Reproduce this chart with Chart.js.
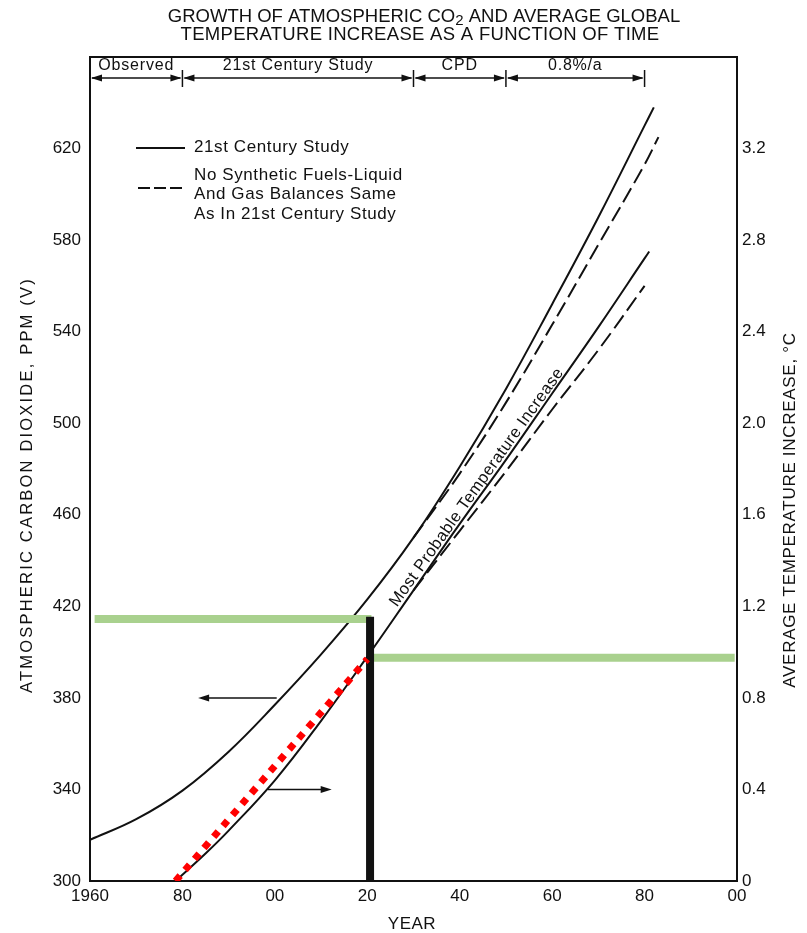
<!DOCTYPE html>
<html>
<head>
<meta charset="utf-8">
<script src="https://cdn.jsdelivr.net/npm/chart.js@4.4.1/dist/chart.umd.min.js"></script>
<style>
  body { margin: 0; background: #fff; }
  #wrap { width: 807px; height: 933px; }
</style>
</head>
<body>
<div id="wrap"><canvas id="myChart" width="807" height="933"></canvas></div>
<script>
// data
const co2Years = [1960, 1970, 1980, 1990, 2000, 2010, 2020, 2030, 2040, 2050, 2060, 2070, 2080, 2082];
const co2Ppm = [318, 327, 339.5, 356.5, 377, 399, 423, 450, 481, 515, 552, 590, 630, 638];
const co2NoSynYears = [2030, 2040, 2050, 2060, 2070, 2080, 2083];
const co2NoSynPpm = [450, 478, 509, 543, 578, 613, 625];

const tempYears = [1978.5, 1985, 1990, 2000, 2010, 2020, 2030, 2040, 2050, 2060, 2070, 2080, 2081];
const tempRise = [0, 0.12, 0.22, 0.44, 0.70, 0.98, 1.27, 1.56, 1.84, 2.13, 2.42, 2.72, 2.75];
const tempNoSynYears = [2030, 2040, 2050, 2060, 2070, 2080];
const tempNoSynRise = [1.27, 1.53, 1.79, 2.06, 2.32, 2.60];

const yearTicks = [1960, 1980, 2000, 2020, 2040, 2060, 2080, 2100];
const ppmTicks = [300, 340, 380, 420, 460, 500, 540, 580, 620];
const tempTicks = [0, 0.4, 0.8, 1.2, 1.6, 2.0, 2.4, 2.8, 3.2];

const phaseBounds = [1960, 1980, 2030, 2050, 2080];
const phaseLabels = ['Observed', '21st Century Study', 'CPD', '0.8%/a'];

// marks drawn over the scan
const redTrendYears = [1978.5, 2020];
const redTrendRise = [0, 0.97];
const markerYears = [2020.6, 2020.6];
const markerPpm = [300, 415.5];
const greenPpmYears = [1961, 2020.9];
const greenPpm = [414.5, 414.5];
const greenTempYears = [2020.9, 2099.5];
const greenTemp = [0.975, 0.975];

const pts = (xs, ys) => xs.map((x, i) => ({ x: x, y: ys[i] }));

const FONT = '"Liberation Sans", Arial, sans-serif';
const INK = '#111';

function arrowHead(ctx, x, y, dir) {
  ctx.beginPath();
  ctx.moveTo(x, y);
  ctx.lineTo(x - dir * 11, y - 3.5);
  ctx.lineTo(x - dir * 11, y + 3.5);
  ctx.closePath();
  ctx.fill();
}

function spaced(ctx, px, spacing) {
  ctx.font = px + 'px ' + FONT;
  ctx.letterSpacing = spacing + 'px';
}

const overlay = {
  id: 'overlay',
  afterDraw(chart) {
    const ctx = chart.ctx;
    const a = chart.chartArea;
    const xs = chart.scales.x, ys = chart.scales.y;
    ctx.save();
    ctx.strokeStyle = INK;
    ctx.fillStyle = INK;

    // top border of the box
    ctx.lineWidth = 2;
    ctx.beginPath();
    ctx.moveTo(a.left, a.top);
    ctx.lineTo(a.right, a.top);
    ctx.stroke();

    // title
    ctx.textBaseline = 'middle';
    const p1 = 'GROWTH OF ATMOSPHERIC CO', p2 = ' AND AVERAGE GLOBAL';
    spaced(ctx, 18.5, 0);
    const w1 = ctx.measureText(p1).width, w3 = ctx.measureText(p2).width;
    spaced(ctx, 15, 0);
    const w2 = ctx.measureText('2').width;
    const tx = 424 - (w1 + w2 + w3) / 2;
    ctx.textAlign = 'left';
    spaced(ctx, 18.5, 0);
    ctx.fillText(p1, tx, 17);
    spaced(ctx, 15, 0);
    ctx.fillText('2', tx + w1, 21);
    spaced(ctx, 18.5, 0);
    ctx.fillText(p2, tx + w1 + w2, 17);
    ctx.textAlign = 'center';
    spaced(ctx, 18.5, 0.3);
    ctx.fillText('TEMPERATURE INCREASE AS A FUNCTION OF TIME', 420, 35);

    // phase row
    const rowY = 78;
    ctx.lineWidth = 1.5;
    spaced(ctx, 16, 0.8);
    for (let i = 0; i < phaseLabels.length; i++) {
      const x0 = xs.getPixelForValue(phaseBounds[i]);
      const x1 = xs.getPixelForValue(phaseBounds[i + 1]);
      ctx.beginPath();
      ctx.moveTo(x0 + 2, rowY);
      ctx.lineTo(x1 - 2, rowY);
      ctx.stroke();
      arrowHead(ctx, x0 + 1, rowY, -1);
      arrowHead(ctx, x1 - 1, rowY, 1);
      ctx.fillText(phaseLabels[i], (x0 + x1) / 2, 66);
    }
    for (let i = 1; i < phaseBounds.length; i++) {
      const x = xs.getPixelForValue(phaseBounds[i]);
      ctx.beginPath();
      ctx.moveTo(x, 70);
      ctx.lineTo(x, 87);
      ctx.stroke();
    }

    // legend
    ctx.lineWidth = 2;
    ctx.beginPath();
    ctx.moveTo(136, 148);
    ctx.lineTo(185, 148);
    ctx.stroke();
    ctx.setLineDash([12, 4]);
    ctx.beginPath();
    ctx.moveTo(138, 188);
    ctx.lineTo(185, 188);
    ctx.stroke();
    ctx.setLineDash([]);
    ctx.textAlign = 'left';
    spaced(ctx, 17, 0.6);
    ctx.fillText('21st Century Study', 194, 147);
    ctx.fillText('No Synthetic Fuels-Liquid', 194, 175);
    ctx.fillText('And Gas Balances Same', 194, 194);
    ctx.fillText('As In 21st Century Study', 194, 214);

    // arrows pointing to each axis
    ctx.lineWidth = 1.5;
    const yA = ys.getPixelForValue(380);
    const xa0 = xs.getPixelForValue(2000.4), xa1 = xs.getPixelForValue(1983.4);
    ctx.beginPath(); ctx.moveTo(xa0, yA); ctx.lineTo(xa1 + 5, yA); ctx.stroke();
    arrowHead(ctx, xa1, yA, -1);
    const yB = ys.getPixelForValue(340);
    const xb0 = xs.getPixelForValue(1998.5), xb1 = xs.getPixelForValue(2012.3);
    ctx.beginPath(); ctx.moveTo(xb0, yB); ctx.lineTo(xb1 - 5, yB); ctx.stroke();
    arrowHead(ctx, xb1, yB, 1);

    // label along the temperature curves
    ctx.save();
    ctx.translate(xs.getPixelForValue(2043.7), ys.getPixelForValue(472));
    ctx.rotate(-54.6 * Math.PI / 180);
    ctx.textAlign = 'center';
    spaced(ctx, 16.5, 0.5);
    ctx.fillText('Most Probable Temperature Increase', 0, 0);
    ctx.restore();

    // axis titles
    ctx.textAlign = 'center';
    ctx.save();
    ctx.translate(27, 485);
    ctx.rotate(-Math.PI / 2);
    spaced(ctx, 16.5, 2.2);
    ctx.fillText('ATMOSPHERIC CARBON DIOXIDE, PPM (V)', 0, 0);
    ctx.restore();
    ctx.save();
    ctx.translate(790, 510);
    ctx.rotate(-Math.PI / 2);
    spaced(ctx, 17, 0.7);
    ctx.fillText('AVERAGE TEMPERATURE INCREASE, \u00B0C', 0, 0);
    ctx.restore();
    spaced(ctx, 17, 0.5);
    ctx.fillText('YEAR', 412, 924);

    ctx.restore();
  }
};

const lineBase = { pointRadius: 0, borderColor: INK, borderWidth: 2, fill: false, tension: 0.4 };

const data = {
  datasets: [
    { ...lineBase, label: 'red trend', data: pts(redTrendYears, redTrendRise), yAxisID: 'y2',
      borderColor: '#ff0000', borderWidth: 7, borderDash: [7, 7.5], order: 0 },
    { ...lineBase, label: 'marker', data: pts(markerYears, markerPpm), yAxisID: 'y', borderWidth: 8, order: 1 },
    { ...lineBase, label: 'green co2', data: pts(greenPpmYears, greenPpm), yAxisID: 'y',
      borderColor: '#a9d18e', borderWidth: 8, order: 2 },
    { ...lineBase, label: 'green temp', data: pts(greenTempYears, greenTemp), yAxisID: 'y2',
      borderColor: '#a9d18e', borderWidth: 8, order: 2 },
    { ...lineBase, label: '21st Century Study CO2', data: pts(co2Years, co2Ppm), yAxisID: 'y', order: 3 },
    { ...lineBase, label: 'No Synthetic Fuels CO2', data: pts(co2NoSynYears, co2NoSynPpm), yAxisID: 'y',
      borderDash: [16, 6], order: 3 },
    { ...lineBase, label: '21st Century Study temp', data: pts(tempYears, tempRise), yAxisID: 'y2', order: 3 },
    { ...lineBase, label: 'No Synthetic Fuels temp', data: pts(tempNoSynYears, tempNoSynRise), yAxisID: 'y2',
      borderDash: [16, 6], order: 3 }
  ]
};

const tickFont = { family: FONT, size: 17 };

const config = {
  type: 'line',
  data: data,
  options: {
    responsive: false,
    animation: false,
    layout: { padding: { top: 57, left: 0, right: 0, bottom: 0 } },
    plugins: { legend: { display: false }, tooltip: { enabled: false } },
    scales: {
      x: {
        type: 'linear', min: 1960, max: 2100,
        afterBuildTicks: s => { s.ticks = yearTicks.map(v => ({ value: v })); },
        afterFit: s => { s.height = 52; },
        ticks: {
          font: tickFont, color: INK, padding: 5, maxRotation: 0, autoSkip: false,
          callback: v => v === 1960 ? '1960' : String(v % 100).padStart(2, '0')
        },
        grid: { display: false, drawTicks: false },
        border: { color: INK, width: 2 }
      },
      y: {
        position: 'left', min: 300, max: 660,
        afterBuildTicks: s => { s.ticks = ppmTicks.map(v => ({ value: v })); },
        afterFit: s => { s.width = 90; },
        ticks: { font: tickFont, color: INK, padding: 9 },
        grid: { display: false, drawTicks: false },
        border: { color: INK, width: 2 }
      },
      y2: {
        position: 'right', min: 0, max: 3.6,
        afterBuildTicks: s => { s.ticks = tempTicks.map(v => ({ value: v })); },
        afterFit: s => { s.width = 70; },
        ticks: { font: tickFont, color: INK, padding: 5,
          callback: v => v === 0 ? '0' : v.toFixed(1) },
        grid: { display: false, drawTicks: false },
        border: { color: INK, width: 2 }
      }
    }
  },
  plugins: [overlay]
};

const myChart = new Chart(document.getElementById('myChart'), config);
</script>
</body>
</html>
